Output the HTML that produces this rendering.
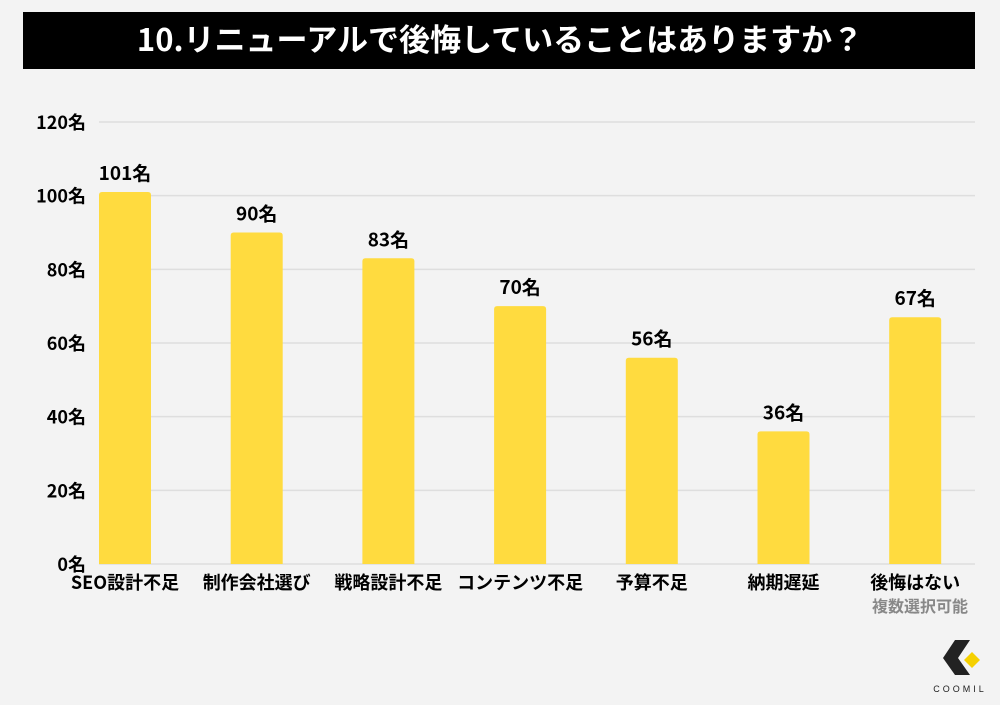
<!DOCTYPE html>
<html><head><meta charset="utf-8"><style>
body{margin:0;background:#f3f3f3;width:1000px;height:700px;overflow:hidden;font-family:"Liberation Sans","Noto Sans CJK JP",sans-serif}
</style></head><body>
<svg width="1000" height="700" xmlns="http://www.w3.org/2000/svg">
<rect x="0" y="0" width="1000" height="700" fill="#f3f3f3"/>
<rect x="23" y="12" width="952" height="57" fill="#000"/>
<text x="500" y="51" fill="#fff" font-size="31" font-weight="bold" text-anchor="middle" font-family="'Noto Sans CJK JP',sans-serif">10.リニューアルで後悔していることはありますか？</text>
<g id="grid"></g><g id="bars"></g>
<text x="920" y="612" fill="#888" font-size="16" font-weight="bold" text-anchor="middle" font-family="'Noto Sans CJK JP',sans-serif">複数選択可能</text>
<g>
<polygon points="955,640 970,640 958,658 970,675 955,675 943,658" fill="#222"/>
<polygon points="972,652 980,660 972,668 964,660" fill="#f5d000"/>
<text x="960" y="692" fill="#222" font-size="9" letter-spacing="3" text-anchor="middle">COOMIL</text>
</g>
</svg>
<script>
const categories=["SEO設計不足","制作会社選び","戦略設計不足","コンテンツ不足","予算不足","納期遅延","後悔はない"];
const values=[101,90,83,70,56,36,67];
const ticks=[0,20,40,60,80,100,120];
const NS="http://www.w3.org/2000/svg";
const y0=564,y1=122,vmax=120,x0=99,step=131.7,bw=52;
const y=v=>y0-(v/vmax)*(y0-y1);
const xc=i=>x0+bw/2+i*step;
const grid=document.getElementById('grid'),bars=document.getElementById('bars');
const font="'Noto Sans CJK JP',sans-serif";
ticks.forEach(t=>{
 const l=document.createElementNS(NS,'line');
 l.setAttribute('x1',x0);l.setAttribute('x2',975);l.setAttribute('y1',y(t));l.setAttribute('y2',y(t));
 l.setAttribute('stroke','#dedede');l.setAttribute('stroke-width','1.5');
 
 
 grid.appendChild(l);
 const tx=document.createElementNS(NS,'text');
 tx.setAttribute('x',86);tx.setAttribute('y',y(t)+7);tx.setAttribute('text-anchor','end');
 tx.setAttribute('font-size','18');tx.setAttribute('font-weight','bold');tx.setAttribute('font-family',font);
 tx.textContent=t+'名';
 
 
 grid.appendChild(tx);
});
values.forEach((v,i)=>{
 const r=document.createElementNS(NS,'path');
 const x=xc(i)-bw/2,top=y(v),rr=3;
 r.setAttribute('d',`M${x},${y0}V${top+rr}Q${x},${top} ${x+rr},${top}H${x+bw-rr}Q${x+bw},${top} ${x+bw},${top+rr}V${y0}Z`);
 r.setAttribute('fill','#ffdb3f');
 
 
 bars.appendChild(r);
 const lb=document.createElementNS(NS,'text');
 lb.setAttribute('x',xc(i));lb.setAttribute('y',top-12);lb.setAttribute('text-anchor','middle');
 lb.setAttribute('font-size','19');lb.setAttribute('font-weight','bold');lb.setAttribute('font-family',font);
 lb.textContent=v+'名';
 
 
 bars.appendChild(lb);
 const c=document.createElementNS(NS,'text');
 c.setAttribute('x',xc(i));c.setAttribute('y',589);c.setAttribute('text-anchor','middle');
 c.setAttribute('font-size','18');c.setAttribute('font-weight','bold');c.setAttribute('font-family',font);
 c.textContent=categories[i];
 
 
 bars.appendChild(c);
});
</script>
</body></html>
